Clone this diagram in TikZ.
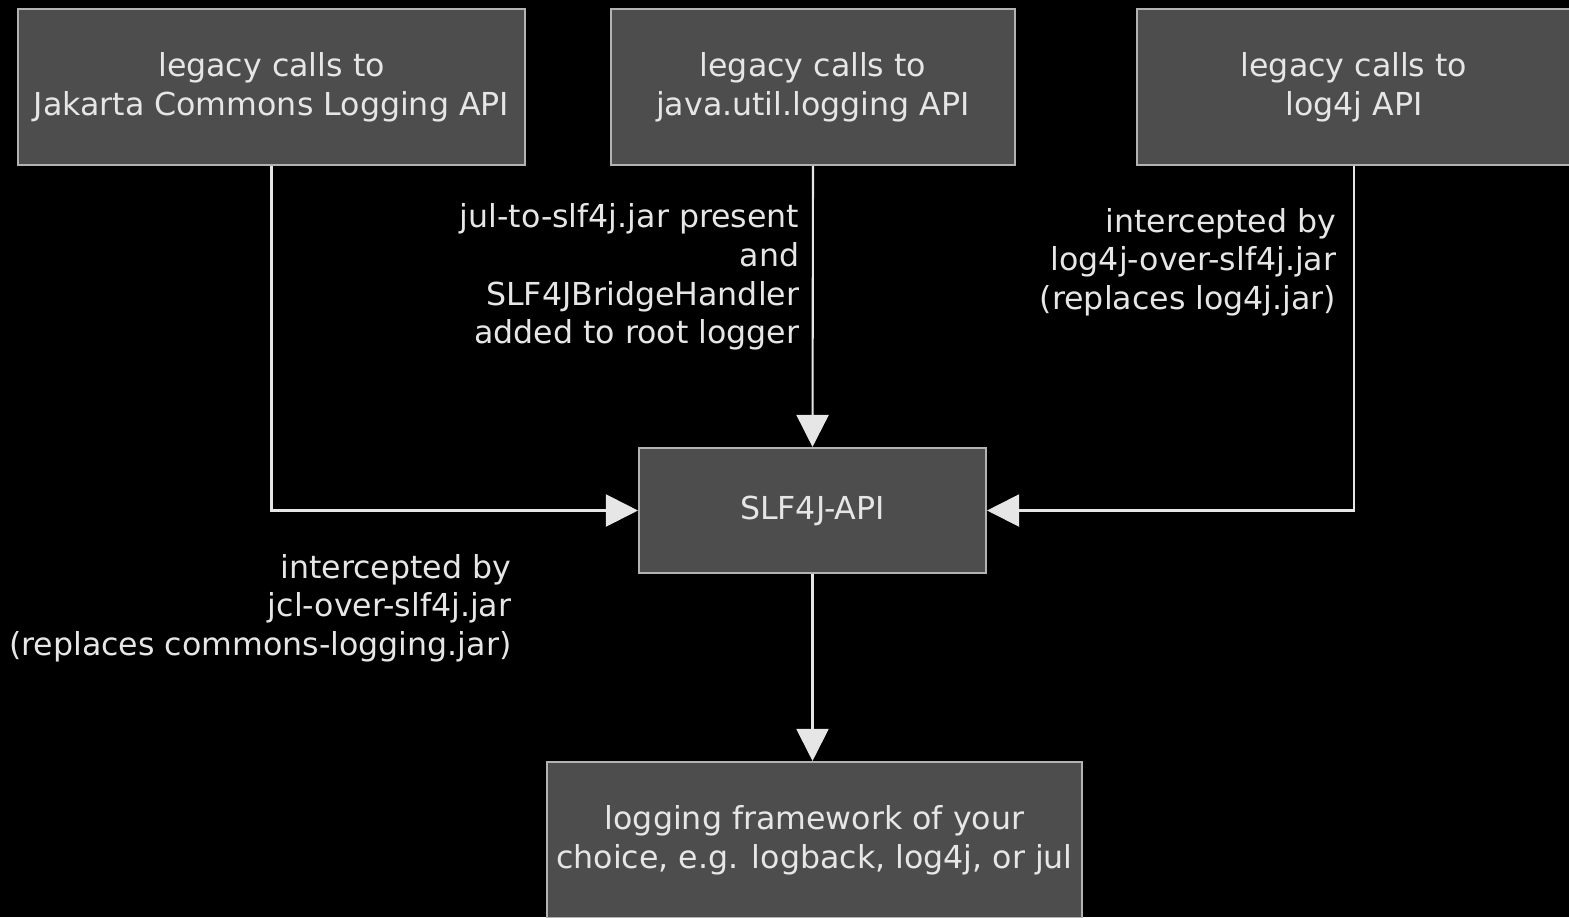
\documentclass[tikz,border=0pt]{standalone}
\usepackage{fontspec}
\setmainfont{DejaVu Sans}
\usetikzlibrary{arrows.meta}
\definecolor{boxgray}{HTML}{4D4D4D}
\definecolor{edgegray}{HTML}{B3B3B3}
\definecolor{inkgray}{HTML}{E6E6E6}
\begin{document}
\begin{tikzpicture}[
    every node/.style={text=inkgray, font=\fontsize{9}{11}\selectfont},
    apibox/.style={draw=edgegray, fill=boxgray, line width=0.6pt, align=center, inner sep=0pt},
    note/.style={align=right, anchor=east, inner sep=0pt},
    flow/.style={draw=inkgray, line width=0.6pt, -{Triangle[length=0.32cm,width=0.32cm]}}
  ]
  \fill[black] (0,0) rectangle (15.69,-9.17);
  \useasboundingbox (0,0) rectangle (15.69,-9.17);

  \node[apibox, minimum width=5.07cm, minimum height=1.56cm] (jcl)   at ( 2.715,-0.87) {legacy calls to\\Jakarta Commons Logging API};
  \node[apibox, minimum width=4.04cm, minimum height=1.56cm] (jul)   at ( 8.130,-0.87) {legacy calls to\\java.util.logging API};
  \node[apibox, minimum width=4.34cm, minimum height=1.56cm] (log4j) at (13.540,-0.87) {legacy calls to\\log4j API};
  \node[apibox, minimum width=3.47cm, minimum height=1.25cm] (api)   at ( 8.125,-5.105) {SLF4J-API};
  \node[apibox, minimum width=5.35cm, minimum height=1.56cm] (fw)    at ( 8.145,-8.40) {logging framework of your\\choice, e.g. logback, log4j, or jul};

  \node[note] (julnote)   at ( 8.00,-2.77) {jul-to-slf4j.jar present\\and\\SLF4JBridgeHandler\\added to root logger};
  \node[note] (log4jnote) at (13.37,-2.62) {intercepted by\\log4j-over-slf4j.jar\\(replaces log4j.jar)};
  \node[note] (jclnote)   at ( 5.12,-6.08) {intercepted by\\jcl-over-slf4j.jar\\(replaces commons-logging.jar)};

  \draw[flow] (jcl.south) |- (api.west);
  \draw[flow] (jul.south) -- (api.north);
  \draw[flow] (log4j.south) |- (api.east);
  \draw[flow] (api.south) -- (api.south |- fw.north);
\end{tikzpicture}
\end{document}
